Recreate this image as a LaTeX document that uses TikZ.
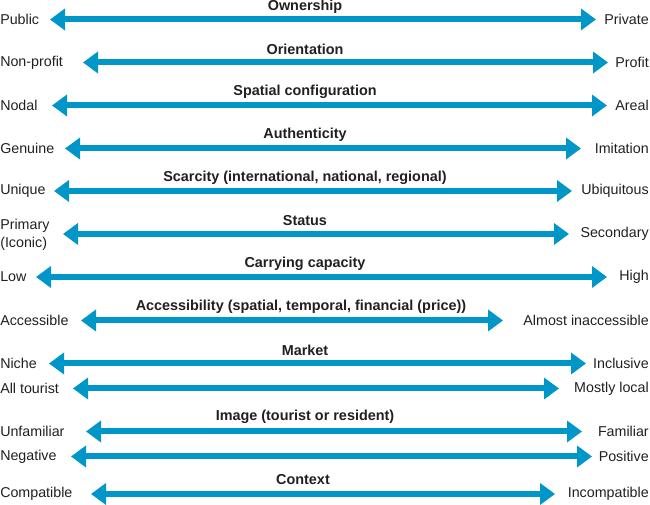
\documentclass[tikz,border=0pt]{standalone}
\usepackage{fontspec}
\setmainfont{Liberation Sans}
\usetikzlibrary{arrows.meta}
\definecolor{arrowblue}{RGB}{0,150,199}
\definecolor{txt}{RGB}{35,31,32}
\begin{document}
\begin{tikzpicture}[x=0.75pt,y=-0.75pt,
  side/.style={inner sep=0pt,text=txt,font=\fontsize{10.7}{13.5}\selectfont},
  lside/.style={side,anchor=west},
  rside/.style={side,anchor=east},
  title/.style={inner sep=0pt,text=txt,font=\fontsize{10.8}{13}\selectfont\bfseries},
  dbl/.style={draw=arrowblue,line width=4.5pt,{Triangle[length=11.25pt,width=15.75pt]}-{Triangle[length=11.25pt,width=15.75pt]}}]
\useasboundingbox (0,0) rectangle (650,505);
% row 1
\node[lside] (l1) at (0,19.5) {Public};
\node[rside] (r1) at (649,19.5) {Private};
\coordinate (a1) at (50,19.5); \coordinate (b1) at (596,19.5);
\draw[dbl] (a1) -- (b1);
\node[title] (t1) at (305,6.5) {Ownership};
% row 2
\node[lside] (l2) at (0,62.5) {Non-profit};
\node[rside] (r2) at (649,62.5) {Profit};
\coordinate (a2) at (83,62.5); \coordinate (b2) at (608,62.5);
\draw[dbl] (a2) -- (b2);
\node[title] (t2) at (305,49) {Orientation};
% row 3
\node[lside] (l3) at (0,105.5) {Nodal};
\node[rside] (r3) at (649,105.5) {Areal};
\coordinate (a3) at (52,105.5); \coordinate (b3) at (607,105.5);
\draw[dbl] (a3) -- (b3);
\node[title] (t3) at (305,92) {Spatial configuration};
% row 4
\node[lside] (l4) at (0,148.5) {Genuine};
\node[rside] (r4) at (649,148.5) {Imitation};
\coordinate (a4) at (65,148.5); \coordinate (b4) at (581,148.5);
\draw[dbl] (a4) -- (b4);
\node[title] (t4) at (305,135) {Authenticity};
% row 5
\node[lside] (l5) at (0,191) {Unique};
\node[rside] (r5) at (649,191) {Ubiquitous};
\coordinate (a5) at (54,191); \coordinate (b5) at (572,191);
\draw[dbl] (a5) -- (b5);
\node[title] (t5) at (305,177.5) {Scarcity (international, national, regional)};
% row 6
\node[lside,align=left] (l6) at (0,235) {Primary\\(Iconic)};
\node[rside] (r6) at (649,234) {Secondary};
\coordinate (a6) at (63,234); \coordinate (b6) at (569,234);
\draw[dbl] (a6) -- (b6);
\node[title] (t6) at (305,220.5) {Status};
% row 7
\node[lside] (l7) at (0,277) {Low};
\node[rside] (r7) at (649,277) {High};
\coordinate (a7) at (36,277); \coordinate (b7) at (607,277);
\draw[dbl] (a7) -- (b7);
\node[title] (t7) at (305,263.5) {Carrying capacity};
% row 8
\node[lside] (l8) at (0,320.5) {Accessible};
\node[rside] (r8) at (649,320.5) {Almost inaccessible};
\coordinate (a8) at (81,320.5); \coordinate (b8) at (503,320.5);
\draw[dbl] (a8) -- (b8);
\node[title] (t8) at (301,306.5) {Accessibility (spatial, temporal, financial (price))};
% row 9
\node[lside] (l9) at (0,363.5) {Niche};
\node[rside] (r9) at (649,363.5) {Inclusive};
\coordinate (a9) at (49,363.5); \coordinate (b9) at (586,363.5);
\draw[dbl] (a9) -- (b9);
\node[title] (t9) at (305,350) {Market};
% row 10
\node[lside] (l10) at (0,388.5) {All tourist};
\node[rside] (r10) at (649,388.5) {Mostly local};
\coordinate (a10) at (73,388.5); \coordinate (b10) at (559,388.5);
\draw[dbl] (a10) -- (b10);
% row 11
\node[lside] (l11) at (0,431.5) {Unfamiliar};
\node[rside] (r11) at (649,431.5) {Familiar};
\coordinate (a11) at (86,431.5); \coordinate (b11) at (582,431.5);
\draw[dbl] (a11) -- (b11);
\node[title] (t11) at (305,416.5) {Image (tourist or resident)};
% row 12
\node[lside] (l12) at (0,456.5) {Negative};
\node[rside] (r12) at (649,456.5) {Positive};
\coordinate (a12) at (71,456.5); \coordinate (b12) at (592,456.5);
\draw[dbl] (a12) -- (b12);
% row 13
\node[lside] (l13) at (0,494) {Compatible};
\node[rside] (r13) at (649,494) {Incompatible};
\coordinate (a13) at (91,494); \coordinate (b13) at (555,494);
\draw[dbl] (a13) -- (b13);
\node[title] (t13) at (303,480) {Context};
\end{tikzpicture}
\end{document}
